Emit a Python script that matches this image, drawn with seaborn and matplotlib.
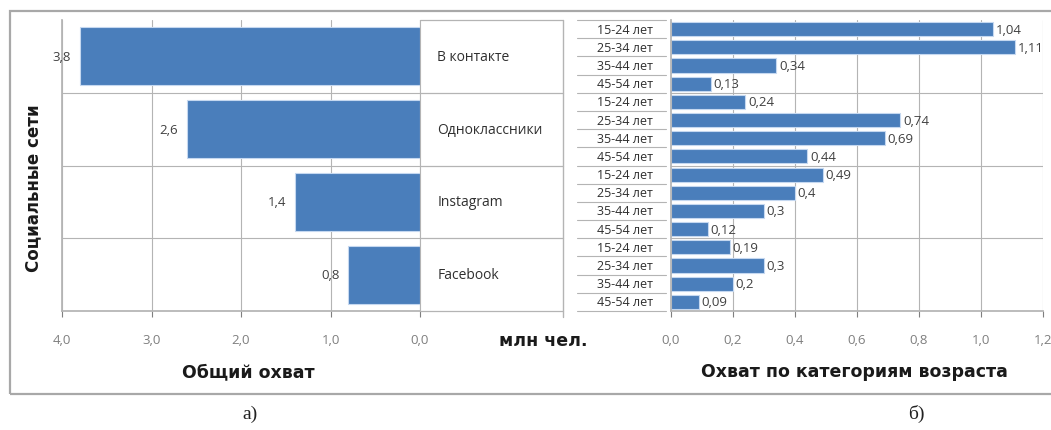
import matplotlib
matplotlib.use("Agg")
import matplotlib.pyplot as plt
import seaborn as sns
import pandas as pd
from matplotlib.patches import Rectangle
from matplotlib.ticker import FuncFormatter

# ---- data ----
networks = ["В контакте", "Одноклассники", "Instagram", "Facebook"]
total_reach = [3.8, 2.6, 1.4, 0.8]
age_groups = ["15-24 лет", "25-34 лет", "35-44 лет", "45-54 лет"]
vk_ages = [1.04, 1.11, 0.34, 0.13]
ok_ages = [0.24, 0.74, 0.69, 0.44]
ig_ages = [0.49, 0.4, 0.3, 0.12]
fb_ages = [0.19, 0.3, 0.2, 0.09]
left_ticks = [4.0, 3.0, 2.0, 1.0, 0.0]
right_ticks = [0.0, 0.2, 0.4, 0.6, 0.8, 1.0, 1.2]

W, H = 1051, 431
sns.set_theme(style="white")
plt.rcParams["font.family"] = ["Open Sans", "DejaVu Sans"]

BLUE = "#4a7ebb"
EDGE = "#c5d8f0"
GRID = "#b4b4b4"
TICKC = "#7f7f7f"
LBLC = "#404040"
FS_SMALL = 9.5

def rect(x0, y0, x1, y1):
    return [x0 / W, 1 - y1 / H, (x1 - x0) / W, (y1 - y0) / H]

fig = plt.figure(figsize=(W / 100, H / 100), dpi=100)
fig.patch.set_facecolor("white")

comma1 = FuncFormatter(lambda v, p: f"{v:.1f}".replace(".", ","))

# ---- left panel ----
df_tot = pd.DataFrame({"net": networks, "val": total_reach})
axL = fig.add_axes(rect(62, 21, 420, 312))
sns.barplot(data=df_tot, y="net", x="val", order=networks, orient="h",
            color=BLUE, width=0.8, edgecolor=EDGE, linewidth=0.8,
            saturation=1, ax=axL)
axL.set_xlim(4.0, 0.0)
axL.set_ylim(3.5, -0.5)
axL.set_xticks(left_ticks)
axL.xaxis.set_major_formatter(comma1)
axL.set_yticks([])
axL.set_xlabel("")
axL.set_ylabel("")
for x in left_ticks:
    axL.axvline(x, color=GRID, lw=0.8, zorder=0)
for y in [0.5, 1.5, 2.5]:
    axL.axhline(y, color=GRID, lw=0.8, zorder=0)
for s in ["top", "right"]:
    axL.spines[s].set_visible(False)
axL.spines["left"].set_color(GRID)
axL.spines["bottom"].set_color(GRID)
axL.tick_params(axis="x", colors=TICKC, labelsize=FS_SMALL, length=4, width=0.8,
                direction="out", bottom=True, pad=12)
for i, v in enumerate(total_reach):
    axL.text(v + 0.1, i, f"{v:.1f}".replace(".", ","), ha="right", va="center",
             fontsize=FS_SMALL, color=LBLC)

# ---- middle network label table ----
axM = fig.add_axes(rect(420, 21, 563, 312))
axM.set_xlim(0, 1)
axM.set_ylim(3.5, -0.5)
axM.axis("off")
for y in [-0.5, 0.5, 1.5, 2.5, 3.5]:
    axM.plot([0, 1], [y, y], color=GRID, lw=0.9, clip_on=False)
axM.plot([1, 1], [-0.5, 3.58], color=GRID, lw=1.0, clip_on=False)
axM.plot([0, 0], [-0.5, 3.5], color=GRID, lw=0.8, clip_on=False)
for i, n in enumerate(networks):
    axM.text(0.12, i, n, ha="left", va="center", fontsize=10, color="#303030")

# ---- right panel ----
rows = []
for net, vals in zip(networks, [vk_ages, ok_ages, ig_ages, fb_ages]):
    for a, v in zip(age_groups, vals):
        rows.append({"row": f"{net}|{a}", "age": a, "val": v})
df_age = pd.DataFrame(rows)
order = list(df_age["row"])

axR = fig.add_axes(rect(671, 21, 1043, 312))
sns.barplot(data=df_age, y="row", x="val", order=order, orient="h",
            color=BLUE, width=0.78, edgecolor=EDGE, linewidth=0.8,
            saturation=1, ax=axR)
axR.set_xlim(0, 1.2)
axR.set_ylim(15.5, -0.5)
axR.set_xticks(right_ticks)
axR.xaxis.set_major_formatter(comma1)
axR.set_yticks([])
axR.set_xlabel("")
axR.set_ylabel("")
for x in right_ticks[1:]:
    axR.axvline(x, color=GRID, lw=0.8, zorder=0)
for y in [3.5, 7.5, 11.5]:
    axR.axhline(y, color=GRID, lw=0.8, zorder=0)
for s in ["top", "right"]:
    axR.spines[s].set_visible(False)
axR.spines["left"].set_color(GRID)
axR.spines["bottom"].set_color(GRID)
axR.tick_params(axis="x", colors=TICKC, labelsize=FS_SMALL, length=4, width=0.8,
                direction="out", bottom=True, pad=12)
for i, v in enumerate(df_age["val"]):
    axR.text(v + 0.008, i, f"{v:g}".replace(".", ","), ha="left", va="center",
             fontsize=FS_SMALL, color=LBLC)

# ---- age label column ----
axA = fig.add_axes(rect(566, 21, 671, 312))
axA.set_xlim(0, 1)
axA.set_ylim(15.5, -0.5)
axA.axis("off")
for k in range(17):
    axA.plot([0.1, 0.95], [k - 0.5, k - 0.5], color=GRID, lw=0.8, clip_on=False)
for i, a in enumerate(df_age["age"]):
    axA.text(0.83, i, a, ha="right", va="center", fontsize=9, color="#303030")

# ---- titles / labels ----
bold = dict(fontweight="bold", family=["DejaVu Sans"], color="#1a1a1a")
fig.text(543 / W, 1 - 341 / H, "млн чел.", ha="center", va="center", fontsize=12.5, **bold)
fig.text(248 / W, 1 - 372 / H, "Общий охват", ha="center", va="center", fontsize=12.5, **bold)
fig.text(854 / W, 1 - 372 / H, "Охват по категориям возраста", ha="center", va="center",
         fontsize=12.5, **bold)
fig.text(33 / W, 1 - 188 / H, "Социальные сети", ha="center", va="center", rotation=90,
         fontsize=12, **bold)
fig.text(250 / W, 1 - 414 / H, "а)", ha="center", va="center", fontsize=14,
         family=["Liberation Serif"], color="#222222")
fig.text(916 / W, 1 - 414 / H, "б)", ha="center", va="center", fontsize=14,
         family=["Liberation Serif"], color="#222222")

# outer frame
fig.patches.append(Rectangle((10 / W, 1 - 395 / H), (1080 - 10) / W, (395 - 12) / H,
                             transform=fig.transFigure, fill=False,
                             edgecolor="#a8a8a8", lw=1.6))

fig.savefig("out.png", dpi=100, facecolor="white")
